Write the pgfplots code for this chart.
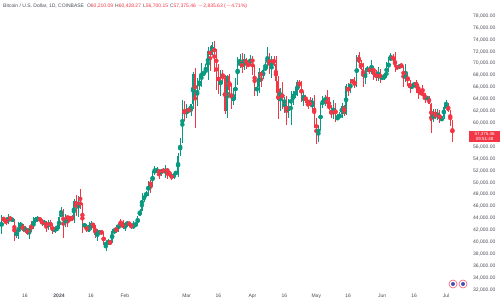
\documentclass[border=0pt]{standalone}
\usepackage{pgfplots}
\usepackage{pgfplotstable}
\pgfplotsset{compat=1.18}
\usepackage{fontspec}
\setmainfont{Liberation Sans}
\definecolor{upc}{HTML}{089981}
\definecolor{dnc}{HTML}{F23645}
\definecolor{lbl}{HTML}{4A4E5A}

% day index: 0 = 2024-01-01
\pgfplotstableread{
d o h l c
-28 39970 42420 39970 41990
-27 41990 44490 41420 44080
-26 44080 44300 43330 43770
-25 43770 44050 42820 43290
-24 43290 44700 43080 44170
-23 44170 44370 43580 43720
-22 43720 44040 43560 43790
-21 43790 43850 40190 41250
-20 41250 42100 40680 41490
-19 41490 43430 40610 42890
-18 42890 43400 41820 43020
-17 43020 43080 41680 41940
-16 41940 42700 41720 42270
-15 42270 42430 41250 41370
-14 41370 42750 40530 42670
-13 42670 43500 41800 42260
-12 42260 44280 42200 43660
-11 43660 44240 43300 43870
-10 43870 44400 43420 43990
-9 43990 44020 43600 43730
-8 43730 43940 42780 43010
-7 43010 43790 42750 43580
-6 43580 43600 41650 42520
-5 42520 43680 42100 43450
-4 43450 43800 42300 42590
-3 42590 43120 41300 42080
-2 42080 42600 41520 42140
-1 42140 42900 41970 42280
0 42280 44190 42200 44180
1 44180 45900 44180 44950
2 44950 45500 40750 42850
3 42850 44770 42630 44190
4 44190 44340 42630 44170
5 44170 44230 43420 43970
6 43970 44510 43610 43940
7 43940 47240 43200 46980
8 46980 47900 44350 46130
9 46130 47690 44300 46650
10 46650 48970 45600 46340
11 46340 46520 41500 42790
12 42790 43250 42440 42840
13 42840 43080 41720 41740
14 41740 43350 41700 42510
15 42510 43570 42060 43150
16 43150 43200 42200 42740
17 42740 42930 40700 41280
18 41280 42190 40270 41620
19 41620 41850 41440 41670
20 41670 41880 41500 41580
21 41580 41680 39450 39530
22 39530 40130 38520 39880
23 39880 40550 39500 40080
24 40080 40290 39520 39950
25 39950 42220 39820 41820
26 41820 42200 41400 42120
27 42120 42840 41630 42030
28 42030 43300 41800 43300
29 43300 43880 42700 42950
30 42950 43750 42270 42580
31 42580 43290 41880 43080
32 43080 43480 42570 43190
33 43190 43380 42880 43000
34 43000 43120 42260 42580
35 42580 43530 42260 42700
36 42700 43400 42580 43090
37 43090 44370 42790 44340
38 44340 45600 44330 45300
39 45300 48200 45250 47150
40 47150 48170 46800 47770
41 47770 48550 47550 48300
42 48300 50330 47700 49950
43 49950 50370 48300 49720
44 49720 52000 49280 51830
45 51830 52820 51300 51930
46 51930 52570 51580 52140
47 52140 52180 50650 51650
48 51650 52340 51200 52120
49 52120 52460 51570 51780
50 51780 52940 50810 52270
51 52270 52380 50660 51850
52 51850 52000 50930 51290
53 51290 51540 50520 50740
54 50740 51700 50580 51570
55 51570 51950 51290 51730
56 51730 54920 50900 54490
57 54490 57550 54450 57050
58 57050 63950 56700 62450
59 62450 63660 60400 61180
60 61180 63150 60800 62440
61 62440 62450 61660 62050
62 62050 63220 61250 63130
63 63130 68550 62420 68300
64 68300 69200 59100 63800
65 63800 67650 62800 66100
66 66100 68000 65600 66930
67 66930 70150 66130 68300
68 68300 68600 67950 68500
69 68500 69950 68200 69020
70 69020 72800 67200 72100
71 72100 72950 68800 71480
72 71480 73650 71350 73100
73 73100 73780 68600 71400
74 71400 72400 65600 69500
75 69500 70000 64800 65300
76 65300 68900 64550 68400
77 68400 68950 66600 67600
78 67600 68100 61550 61950
79 61950 68100 60800 67900
80 67900 68250 64550 65500
81 65500 66650 62300 63800
82 63800 65970 63050 64250
83 64250 67600 63800 67200
84 67200 71150 66400 69950
85 69950 71530 69300 69990
86 69990 71750 68400 69450
87 69450 71550 68900 70750
88 70750 70900 69100 69870
89 69870 70330 69550 69630
90 69630 71350 69600 71300
91 71300 71300 68100 69680
92 69680 69700 64500 65480
93 65480 66900 64500 65980
94 65980 69300 65100 68500
95 68500 68700 66000 67840
96 67840 69000 67450 68900
97 68900 70300 68800 69360
98 69360 72720 69040 71620
99 71620 71750 68200 69130
100 69130 71200 67500 70630
101 70630 71250 69570 70000
102 70000 71250 65100 67130
103 67130 67950 60700 63900
104 63900 65900 62100 65750
105 65750 66880 62300 63450
106 63450 64350 61700 63800
107 63800 64480 59700 61270
108 61270 64100 60800 63470
109 63470 65450 59600 63820
110 63820 65400 63100 64950
111 64950 65700 64250 64950
112 64950 67250 64500 66850
113 66850 67200 65850 66400
114 66400 67100 63600 64280
115 64280 65300 62800 64480
116 64480 64800 63300 63760
117 63760 63900 62400 63430
118 63430 64350 62800 63100
119 63100 64200 61800 63840
120 63840 64700 59100 60600
121 60600 60800 56550 58300
122 58300 59600 56900 59100
123 59100 63300 58800 62900
124 62900 64500 62600 63900
125 63900 64650 62900 64000
126 64000 65500 62700 63180
127 63180 64400 62200 62300
128 62300 62980 60800 61200
129 61200 63850 60650 63100
130 63100 63450 60200 60790
131 60790 61450 60500 60830
132 60830 61800 60650 61470
133 61470 63450 60800 62950
134 62950 63100 61150 61580
135 61580 66480 61350 66250
136 66250 66700 64600 65250
137 65250 67450 65100 67050
138 67050 67400 66600 66950
139 66950 67700 65850 66270
140 66270 71500 66060 71430
141 71430 71950 69200 70140
142 70140 70650 68850 69150
143 69150 70150 66100 67950
144 67950 69200 66600 68550
145 68550 69550 68500 69300
146 69300 69500 68220 68500
147 68500 70600 68250 69400
148 69400 69550 67250 68350
149 68350 68900 67150 67600
150 67600 69500 67100 68350
151 68350 69000 66650 67500
152 67500 67850 67400 67750
153 67750 68450 67300 67750
154 67750 70250 67600 68800
155 68800 71050 68550 70550
156 70550 71750 70400 71080
157 71080 71600 70150 70790
158 70790 71950 68500 69350
159 69350 69550 69200 69300
160 69300 69850 69100 69650
161 69650 70150 69200 69500
162 69500 69550 66100 67320
163 67320 69950 66900 68240
164 68240 68400 66300 66750
165 66750 67300 65100 66010
166 66010 66450 65850 66200
167 66200 66950 66050 66650
168 66650 67250 65100 66500
169 66500 66600 64100 65150
170 65150 65750 64700 64950
171 64950 66450 64550 64850
172 64850 65050 63400 64100
173 64100 64500 63950 64250
174 64250 64550 63200 63200
175 63200 63350 58400 60300
176 60300 62350 60250 61800
177 61800 62450 60700 60850
178 60850 62300 60600 61650
179 61650 62200 60050 60350
180 60350 61150 60300 60950
181 60950 63050 60750 62700
182 62700 63800 62600 62850
183 62850 63300 61850 62050
184 62050 62250 59450 60200
185 60200 60500 56800 57375
}\btc

\begin{document}
\begin{tikzpicture}[x=1pt,y=1pt]
\path[use as bounding box] (0,0) rectangle (500,300);
\begin{axis}[
  at={(0,12)}, anchor=south west,
  scale only axis, width=466pt, height=288pt,
  xmin=-27.75, xmax=191.4, ymin=31500, ymax=79850,
  axis line style={draw=none}, tick style={draw=none},
  major tick length=0pt,
  scaled y ticks=false,
  ytick={32000,34000,...,78000},
  yticklabel pos=right,
  yticklabel style={font=\fontsize{5}{6}\selectfont, text=lbl, anchor=west, inner sep=0pt, xshift=7pt,
    /pgf/number format/.cd, fixed, fixed zerofill, precision=2, 1000 sep={,}, assume math mode=true},
  xtick={-16,0,15,31,60,75,91,106,121,136,152,167,182},
  xticklabels={16,\textbf{2024},16,Feb,Mar,16,Apr,16,May,16,Jun,16,Jul},
  xticklabel style={font=\fontsize{5}{6}\selectfont, text=lbl, anchor=center, inner sep=0pt, yshift=-3pt},
]
% wicks
\addplot[upc, only marks, mark=none, forget plot,
  error bars/.cd, y dir=both, y explicit, error mark=none,
  error bar style={line width=0.5pt}]
  table[x=d, y expr={\thisrow{c}>=\thisrow{o} ? (\thisrow{h}+\thisrow{l})/2 : nan},
        y error expr={(\thisrow{h}-\thisrow{l})/2}] {\btc};
\addplot[dnc, only marks, mark=none, forget plot,
  error bars/.cd, y dir=both, y explicit, error mark=none,
  error bar style={line width=0.5pt}]
  table[x=d, y expr={\thisrow{c}<\thisrow{o} ? (\thisrow{h}+\thisrow{l})/2 : nan},
        y error expr={(\thisrow{h}-\thisrow{l})/2}] {\btc};
% bodies
\addplot[upc, only marks, mark=none, forget plot,
  error bars/.cd, y dir=both, y explicit, error mark=none,
  error bar style={line width=1.35pt}]
  table[x=d, y expr={\thisrow{c}>=\thisrow{o} ? (\thisrow{o}+\thisrow{c})/2 : nan},
        y error expr={max(abs(\thisrow{c}-\thisrow{o})/2,40)}] {\btc};
\addplot[dnc, only marks, mark=none, forget plot,
  error bars/.cd, y dir=both, y explicit, error mark=none,
  error bar style={line width=1.35pt}]
  table[x=d, y expr={\thisrow{c}<\thisrow{o} ? (\thisrow{o}+\thisrow{c})/2 : nan},
        y error expr={max(abs(\thisrow{c}-\thisrow{o})/2,40)}] {\btc};
\end{axis}
% title
\node[anchor=west, inner sep=0pt, font=\fontsize{5}{6}\selectfont] at (3,294)
  {\textcolor{lbl}{Bitcoin / U.S. Dollar, 1D, COINBASE}\hspace{3pt}%
   \textcolor{lbl}{O}\textcolor{dnc}{60,210.09}\hspace{2pt}%
   \textcolor{lbl}{H}\textcolor{dnc}{60,428.27}\hspace{2pt}%
   \textcolor{lbl}{L}\textcolor{dnc}{56,700.15}\hspace{2pt}%
   \textcolor{lbl}{C}\textcolor{dnc}{57,375.46}\hspace{2pt}%
   \textcolor{dnc}{$-$2,835.63 ($-$4.71\%)}};
% last price label
\node[anchor=north west, fill=dnc, text=white, inner sep=1pt, minimum width=31pt, align=center,
  font=\fontsize{4.5}{5.2}\selectfont] at (469,169) {57,375.46\\09:51:48};
% event icons
\draw[dnc!80, fill=white, line width=0.6pt] (453,16) circle (4);
\fill[blue!60!black!70] (453,16) circle (2);
\draw[dnc!80, fill=white, line width=0.6pt] (463,16) circle (4);
\fill[blue!60!black!70] (463,16) circle (2);
\end{tikzpicture}
\end{document}
